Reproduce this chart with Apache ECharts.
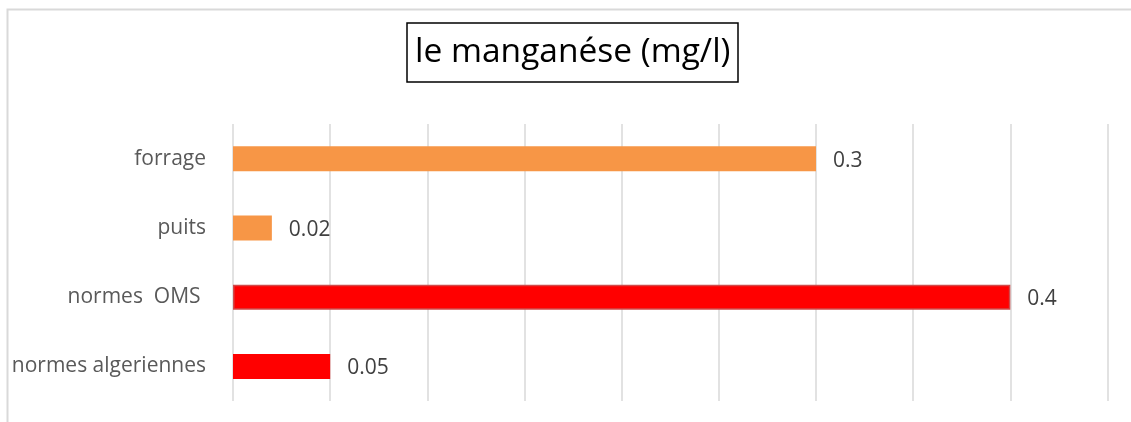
<!DOCTYPE html>
<html><head><meta charset="utf-8">
<script src="https://cdn.jsdelivr.net/npm/echarts@6/dist/echarts.min.js"></script>
<style>html,body{margin:0;padding:0;background:#fff}#c{width:1131px;height:422px}</style>
</head><body><div id="c"></div>
<script>
const titleText = 'le manganése (mg/l)';
const categories = ['forrage', 'puits', 'normes  OMS ', 'normes algeriennes'];
const values = [0.3, 0.02, 0.4, 0.05];
const axisMin = 0, axisMax = 0.45, axisInterval = 0.05;

const ORANGE = '#F79646', RED = '#FF0000';
const barData = values.map((v, i) => ({
  value: v,
  itemStyle: {
    color: i < 2 ? ORANGE : RED,
    borderColor: i === 2 ? '#d04a4a' : (i < 2 ? ORANGE : RED),
    borderWidth: i === 2 ? 1.5 : 0
  }
}));

const chart = echarts.init(document.getElementById('c'));
chart.setOption({
  backgroundColor: '#fff',
  animation: false,
  title: {
    text: titleText, left: 407, top: 23,
    borderColor: '#000', borderWidth: 1.5, padding: [9, 8, 10, 8],
    textStyle: { fontFamily: 'Open Sans', fontSize: 33.5, lineHeight: 40, fontWeight: 'normal', color: '#000' }
  },
  graphic: [{
    type: 'polyline', silent: true,
    shape: { points: [[7.5, 430], [7.5, 9.5], [1140, 9.5]] },
    style: { stroke: '#d9d9d9', lineWidth: 2, fill: null }
  }],
  grid: { left: 233, right: 23.5, top: 124, bottom: 21, containLabel: false },
  xAxis: {
    type: 'value', min: axisMin, max: axisMax, interval: axisInterval,
    axisLabel: { show: false }, axisLine: { show: false }, axisTick: { show: false },
    splitLine: { show: true, lineStyle: { color: '#d9d9d9', width: 1.5 } }
  },
  yAxis: {
    type: 'category', data: categories, inverse: true,
    axisLine: { show: false }, axisTick: { show: false },
    axisLabel: { margin: 27, fontFamily: 'Open Sans', fontSize: 21, color: '#595959' }
  },
  series: [{
    type: 'bar', data: barData, barWidth: 25,
    label: {
      show: true, position: 'right', distance: 17, offset: [0, 2],
      fontFamily: 'Open Sans', fontSize: 21, color: '#404040'
    }
  }]
});
</script></body></html>
